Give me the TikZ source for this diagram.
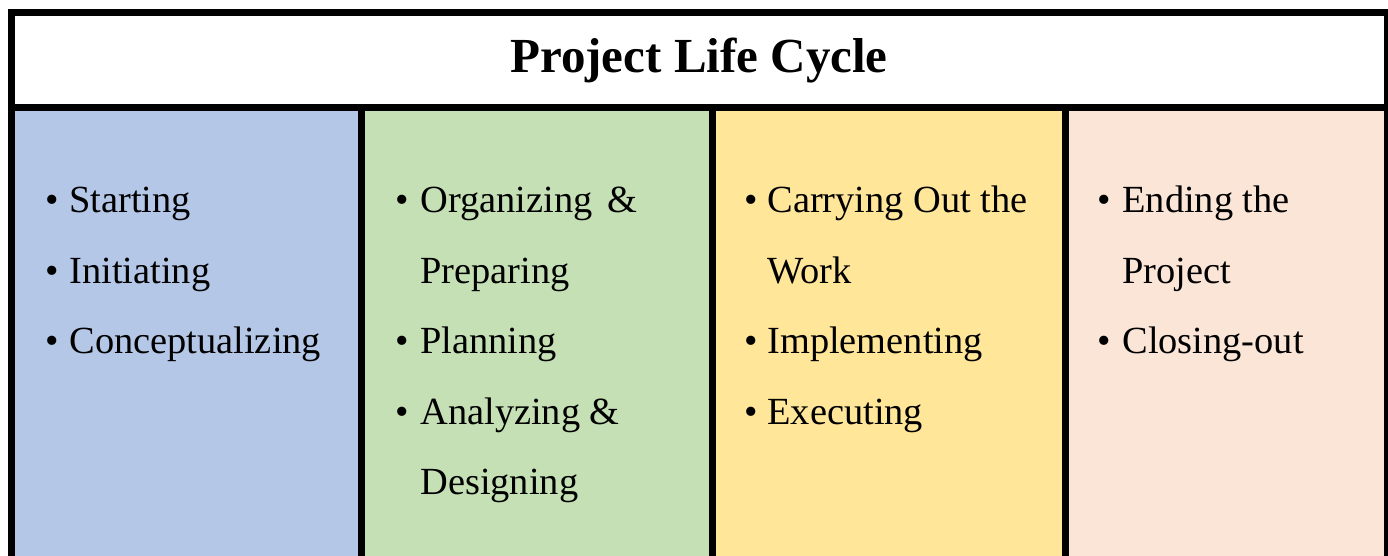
\documentclass[tikz,border=0pt]{standalone}
\usepackage{fontspec}
\setmainfont{Liberation Serif}
\definecolor{phaseblue}{HTML}{B4C7E7}
\definecolor{phasegreen}{HTML}{C5E0B4}
\definecolor{phaseyellow}{HTML}{FFE699}
\definecolor{phasepeach}{HTML}{FBE5D6}
\tikzset{
  frame/.style={line width=3.5pt},
  item/.style={anchor=base west,inner sep=0pt,font=\fontsize{19.2}{23}\selectfont},
  dot/.style={anchor=base,inner sep=0pt,font=\fontsize{19.2}{23}\selectfont}
}
\begin{document}
\begin{tikzpicture}[x=0.5pt,y=-0.5pt]
\useasboundingbox(0,0)rectangle(1388,556);
\fill[phaseblue](11.5,108)rectangle(361.5,570);
\fill[phasegreen](361.5,108)rectangle(712.5,570);
\fill[phaseyellow](712.5,108)rectangle(1065,570);
\fill[phasepeach](1065,108)rectangle(1387,570);
\draw[frame](11.5,570)--(11.5,13)--(1387,13)--(1387,570);
\draw[frame](11.5,108)--(1387,108);
\draw[frame](9,559)--(1390,559);
\draw[frame](361.5,108)--(361.5,570);
\draw[frame](712.5,108)--(712.5,570);
\draw[frame](1065,108)--(1065,570);
\node[anchor=base,inner sep=0pt,font=\bfseries\fontsize{24.5}{29}\selectfont](title)at(699,73){Project Life Cycle};
% first phase
\node[dot](b11)at(52,213){\textbullet};\node[item](starting)at(69,213){Starting};
\node[dot](b12)at(52,283){\textbullet};\node[item](initiating)at(69,283){Initiating};
\node[dot](b13)at(52,353){\textbullet};\node[item](concept)at(69,353){Conceptualizing};
% second phase
\node[dot](b21)at(402,213){\textbullet};\node[item](organizing)at(420,213){Organizing\hspace{0.4em}\&};
\node[item](preparing)at(420,283){Preparing};
\node[dot](b22)at(402,353){\textbullet};\node[item](planning)at(420,353){Planning};
\node[dot](b23)at(402,424){\textbullet};\node[item](analyzing)at(420,424){Analyzing \&};
\node[item](designing)at(420,494){Designing};
% third phase
\node[dot](b31)at(751,213){\textbullet};\node[item](carrying)at(767,213){Carrying Out the};
\node[item](work)at(767,283){Work};
\node[dot](b32)at(751,353){\textbullet};\node[item](implementing)at(767,353){Implementing};
\node[dot](b33)at(751,424){\textbullet};\node[item](executing)at(767,424){Executing};
% fourth phase
\node[dot](b41)at(1104,213){\textbullet};\node[item](ending)at(1122,213){Ending the};
\node[item](project)at(1122,283){Project};
\node[dot](b42)at(1104,353){\textbullet};\node[item](closing)at(1122,353){Closing-out};
\end{tikzpicture}
\end{document}
